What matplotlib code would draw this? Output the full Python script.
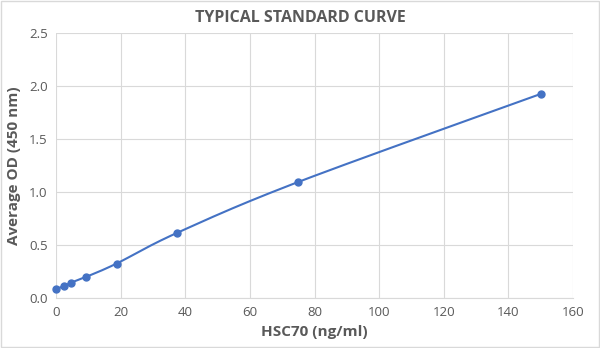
import matplotlib
matplotlib.use("Agg")
import matplotlib.pyplot as plt
import numpy as np
from matplotlib.patches import Rectangle

conc = [0, 2.34, 4.69, 9.375, 18.75, 37.5, 75, 150]
od = [0.085, 0.11, 0.145, 0.20, 0.325, 0.615, 1.095, 1.925]

x_ticks = [0, 20, 40, 60, 80, 100, 120, 140, 160]
y_ticks = [0.0, 0.5, 1.0, 1.5, 2.0, 2.5]

BLUE = "#4472C4"
GREY = "#595959"


def smooth(xs, ys, n=30):
    # Excel-style smoothed line: Catmull-Rom as cubic Bezier segments
    p = np.column_stack([xs, ys]).astype(float)
    p = np.vstack([p[0], p, p[-1]])
    out = []
    t = np.linspace(0, 1, n)[:, None]
    for i in range(1, len(p) - 2):
        p0, p1, p2, p3 = p[i - 1], p[i], p[i + 1], p[i + 2]
        c1 = p1 + (p2 - p0) / 6
        c2 = p2 - (p3 - p1) / 6
        seg = ((1 - t) ** 3) * p1 + 3 * ((1 - t) ** 2) * t * c1 + 3 * (1 - t) * t ** 2 * c2 + t ** 3 * p2
        out.append(seg)
    s = np.vstack(out)
    return s[:, 0], s[:, 1]


plt.rcParams["font.family"] = ["Open Sans", "DejaVu Sans"]

fig = plt.figure(figsize=(6.0, 3.48), dpi=100)
ax = fig.add_axes([56 / 600, 1 - 298 / 348, 517 / 600, 265 / 348])

sx, sy = smooth(conc, od)
ax.plot(sx, sy, color=BLUE, linewidth=1.5, zorder=3, clip_on=False)
ax.plot(conc, od, "o", color=BLUE, markersize=5, zorder=4, clip_on=False)

ax.set_xlim(0, 160)
ax.set_ylim(0, 2.5)
ax.set_xticks(x_ticks)
ax.set_yticks(y_ticks)
ax.set_yticklabels([f"{v:.1f}" for v in y_ticks])
ax.grid(True, color="#D9D9D9", linewidth=0.8)
ax.set_axisbelow(True)
for s in ["top", "right", "left"]:
    ax.spines[s].set_visible(False)
ax.spines["bottom"].set_color("#D9D9D9")
ax.tick_params(length=0, colors=GREY, labelsize=9.5, pad=6)

ax.set_xlabel("HSC70 (ng/ml)", fontsize=11, fontweight="bold", color=GREY, labelpad=4)
ax.set_ylabel("Average OD (450 nm)", fontsize=11, fontweight="bold", color=GREY, labelpad=6)
fig.text(0.5, 1 - 18 / 348, "TYPICAL STANDARD CURVE", ha="center", va="center",
         fontsize=11.5, fontweight="bold", color=GREY)

fig.patches.append(Rectangle((0.002, 0.003), 0.996, 0.994, transform=fig.transFigure,
                             fill=False, edgecolor="#D9D9D9", linewidth=1))

fig.savefig("out.png", dpi=100)
